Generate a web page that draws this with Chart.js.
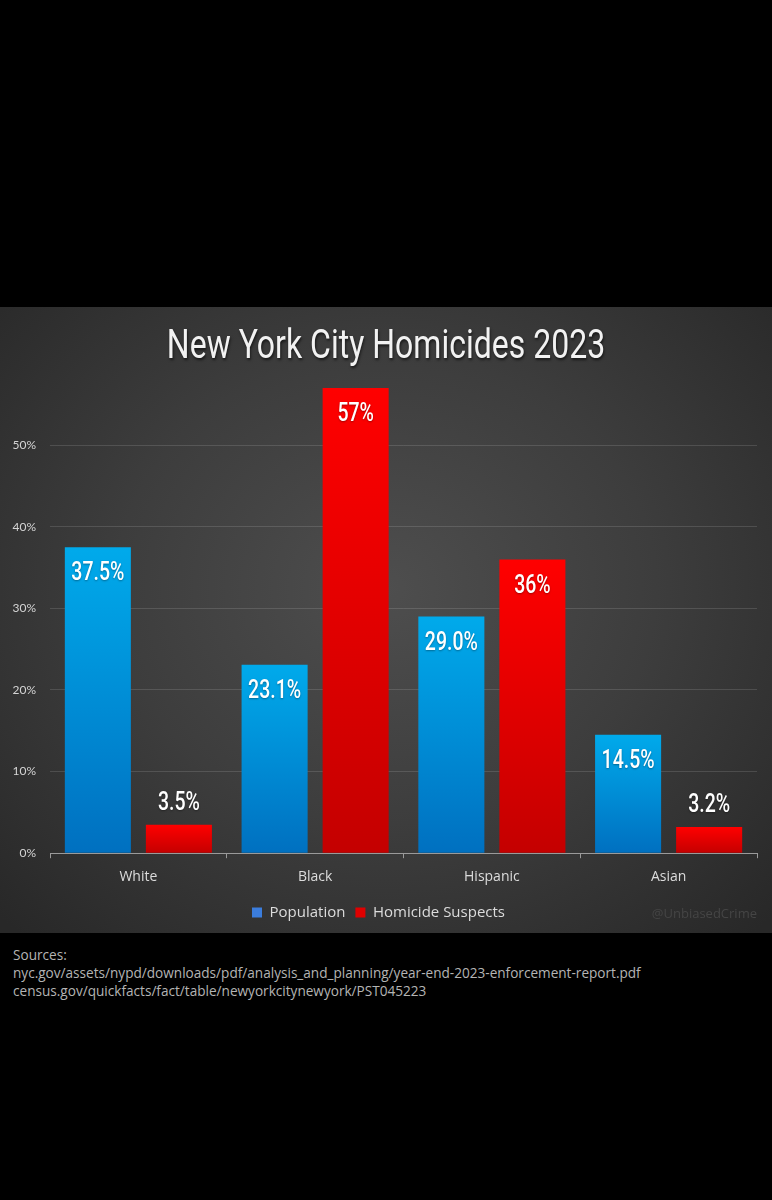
<!DOCTYPE html>
<html>
<head>
<meta charset="utf-8">
<script src="https://cdn.jsdelivr.net/npm/chart.js@4"></script>
<style>
  body { margin: 0; background: #000; width: 772px; height: 1200px; overflow: hidden; }
  .panel {
    position: absolute; left: 0; top: 307px; width: 772px; height: 626px;
    background: radial-gradient(ellipse 70% 75% at 50% 45%, #4e4e4e 0%, #3d3d3d 50%, #282828 100%);
  }
  .title {
    position: absolute; left: 0; top: 14px; width: 772px; text-align: center;
    font-family: Roboto, sans-serif; font-size: 40px; color: #f2f2f2;
    transform: scaleX(0.8); transform-origin: 386px 0;
    text-shadow: 1px 2px 3px rgba(0,0,0,0.6);
  }
  .mark {
    position: absolute; right: 15px; top: 597px;
    font-family: "Open Sans", sans-serif; font-size: 13px; color: #454545;
  }
  .sources {
    position: absolute; left: 13px; top: 946px;
    font-family: "Open Sans", sans-serif; font-size: 13.6px; line-height: 18px; color: #b4b4b4;
  }
  canvas { position: absolute; left: 0; top: 0; }
</style>
</head>
<body>
<div class="panel">
  <canvas id="chart" width="772" height="626"></canvas>
  <div class="title">New York City Homicides 2023</div>
  <div class="mark">@UnbiasedCrime</div>
</div>
<div class="sources">Sources:<br>nyc.gov/assets/nypd/downloads/pdf/analysis_and_planning/year-end-2023-enforcement-report.pdf<br>census.gov/quickfacts/fact/table/newyorkcitynewyork/PST045223</div>
<script>
const categories = ["White", "Black", "Hispanic", "Asian"];
const population = [37.5, 23.1, 29.0, 14.5];
const suspects = [3.5, 57, 36, 3.2];
const populationLabels = ["37.5%", "23.1%", "29.0%", "14.5%"];
const suspectLabels = ["3.5%", "57%", "36%", "3.2%"];
const yTicks = [0, 10, 20, 30, 40, 50];

function barGradient(top, bottom) {
  return (ctx) => {
    const chart = ctx.chart;
    const y = chart.scales && chart.scales.y;
    if (!y || ctx.raw === undefined) return top;
    const g = chart.ctx.createLinearGradient(0, y.getPixelForValue(ctx.raw), 0, y.getPixelForValue(0));
    g.addColorStop(0, top);
    g.addColorStop(1, bottom);
    return g;
  };
}

// value labels: inside the top of tall bars, above the short ones
const valueLabels = {
  id: "valueLabels",
  afterDatasetsDraw(chart) {
    const ctx = chart.ctx;
    const texts = [populationLabels, suspectLabels];
    chart.data.datasets.forEach((ds, di) => {
      chart.getDatasetMeta(di).data.forEach((bar, i) => {
        const inside = ds.data[i] > 10;
        const ty = inside ? bar.y + 27 : bar.y - 21;
        ctx.save();
        ctx.translate(bar.x, ty);
        ctx.scale(0.78, 1);
        ctx.font = "500 25px Roboto";
        ctx.fillStyle = "#ffffff";
        ctx.textAlign = "center";
        ctx.textBaseline = "middle";
        ctx.shadowColor = "rgba(0,0,0,0.35)";
        ctx.shadowBlur = 2;
        ctx.shadowOffsetY = 1;
        ctx.fillText(texts[di][i], 0, 0);
        ctx.restore();
      });
    });
  }
};

new Chart(document.getElementById("chart"), {
  type: "bar",
  data: {
    labels: categories,
    datasets: [
      { label: "Population", data: population, backgroundColor: barGradient("#00aaeb", "#0070c0"), legendColor: "#3b7ddd" },
      { label: "Homicide Suspects", data: suspects, backgroundColor: barGradient("#ff0000", "#c40000"), legendColor: "#e00000" }
    ]
  },
  options: {
    responsive: false,
    animation: false,
    categoryPercentage: 0.917,
    barPercentage: 0.815,
    layout: { padding: { top: 81, right: 15, bottom: 3, left: 0 } },
    scales: {
      y: {
        min: 0, max: 57,
        afterBuildTicks: (s) => { s.ticks = yTicks.map(v => ({ value: v })); },
        afterFit: (s) => { s.width = 50; },
        border: { display: false },
        grid: { color: "rgba(255,255,255,0.13)", drawTicks: false },
        ticks: {
          padding: 14, color: "#d4d4d4",
          font: { family: "Lato", size: 12 },
          callback: (v) => v + "%"
        }
      },
      x: {
        border: { display: true, color: "#9a9a9a", width: 1 },
        grid: { offset: true, drawOnChartArea: false, drawTicks: true, tickLength: 5, color: "#9a9a9a" },
        ticks: { color: "#dcdcdc", padding: 10, font: { family: "Open Sans", size: 14 } }
      }
    },
    plugins: {
      legend: {
        position: "bottom",
        labels: {
          color: "#dcdcdc",
          font: { family: "Open Sans", size: 15 },
          boxWidth: 10, boxHeight: 10, padding: 10,
          generateLabels: (chart) => chart.data.datasets.map((ds, i) => ({
            text: ds.label, fillStyle: ds.legendColor, strokeStyle: ds.legendColor,
            lineWidth: 0, fontColor: "#dcdcdc", datasetIndex: i
          }))
        }
      },
      tooltip: { enabled: false }
    }
  },
  plugins: [valueLabels]
});
</script>
</body>
</html>
